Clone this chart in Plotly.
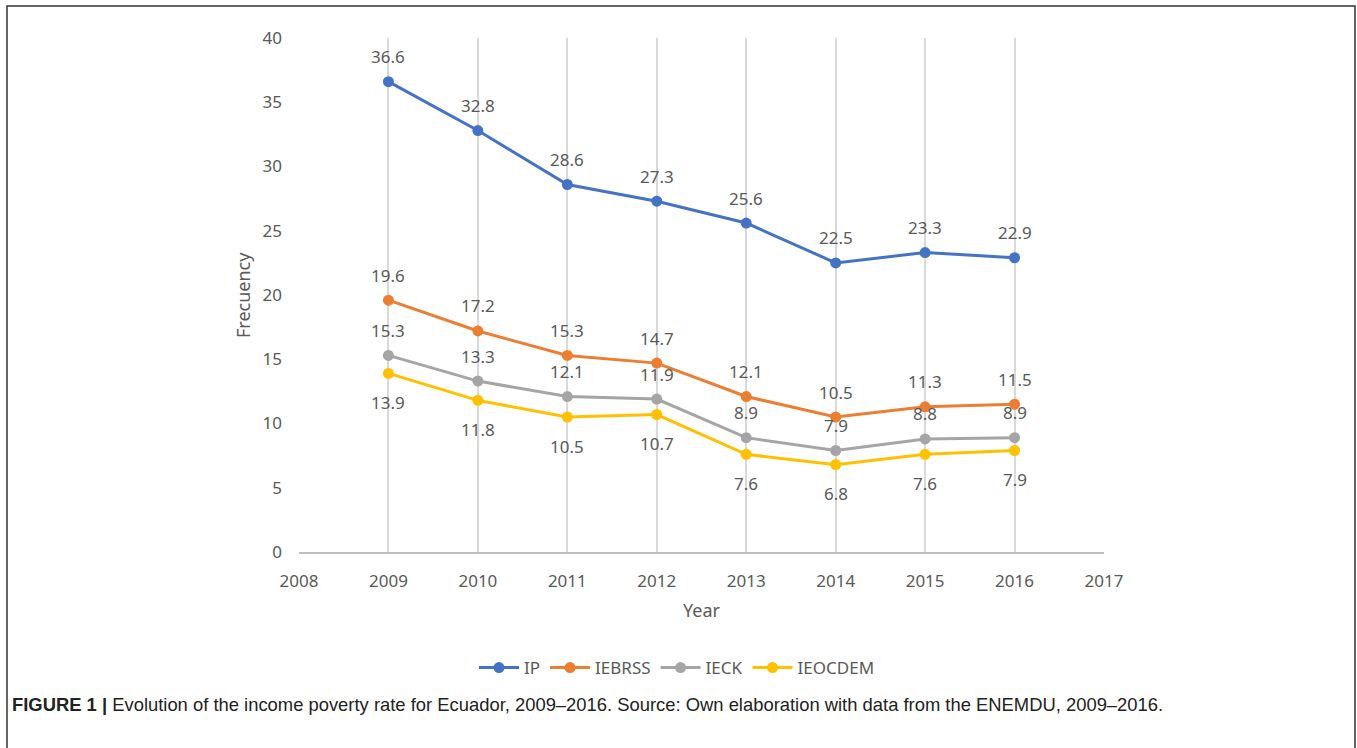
import plotly.graph_objects as go

years = [2009, 2010, 2011, 2012, 2013, 2014, 2015, 2016]
series_names = ["IP", "IEBRSS", "IECK", "IEOCDEM"]
ip = [36.6, 32.8, 28.6, 27.3, 25.6, 22.5, 23.3, 22.9]
iebrss = [19.6, 17.2, 15.3, 14.7, 12.1, 10.5, 11.3, 11.5]
ieck = [15.3, 13.3, 12.1, 11.9, 8.9, 7.9, 8.8, 8.9]
ieocdem = [13.9, 11.8, 10.5, 10.7, 7.6, 6.8, 7.6, 7.9]
colors = ["#4472C4", "#ED7D31", "#A5A5A5", "#FFC000"]
label_side = ["above", "above", "above", "below"]
x_ticks = list(range(2008, 2018))
y_ticks = [0, 5, 10, 15, 20, 25, 30, 35, 40]

W, H = 1357, 748
x0, x1 = 299, 1104
y0, y1 = 552, 38

FONT = "Noto Sans"
TXT = "#595959"

fig = go.Figure()
all_series = [ip, iebrss, ieck, ieocdem]
for name, vals, col in zip(series_names, all_series, colors):
    fig.add_trace(go.Scatter(
        x=years, y=vals, name=name, mode="lines+markers",
        line=dict(color=col, width=3),
        marker=dict(color=col, size=11),
    ))

annotations = []
for vals, side in zip(all_series, label_side):
    for xv, yv in zip(years, vals):
        annotations.append(dict(
            x=xv, y=yv, xref="x", yref="y", text=f"{yv:.1f}",
            showarrow=False, yshift=25 if side == "above" else -29,
            font=dict(family=FONT, size=17, color=TXT),
        ))

annotations += [
    dict(x=702 / W, y=1 - 610 / H, xref="paper", yref="paper", text="Year",
         xanchor="center", yanchor="middle",
         showarrow=False, font=dict(family=FONT, size=18, color=TXT)),
    dict(x=243 / W, y=1 - 295 / H, xref="paper", yref="paper", text="Frecuency",
         xanchor="center", yanchor="middle",
         showarrow=False, textangle=-90, font=dict(family=FONT, size=18, color=TXT)),
    dict(x=10 / W, y=1 - 704 / H, xref="paper", yref="paper", xanchor="left", yanchor="middle",
         text="<b>FIGURE 1 |</b> Evolution of the income poverty rate for Ecuador, 2009–2016. Source: Own elaboration with data from the ENEMDU, 2009–2016.",
         showarrow=False, font=dict(family="Liberation Sans", size=18.4, color="#222222")),
]

shapes = [
    dict(type="path", xref="paper", yref="paper",
         path=f"M {7/W} -0.01 L {7/W} {1-6/H} L {1355/W} {1-6/H} L {1355/W} -0.01",
         line=dict(color="#333333", width=1.5)),
]

fig.update_layout(
    width=W, height=H,
    margin=dict(l=0, r=0, t=0, b=0, autoexpand=False),
    paper_bgcolor="white", plot_bgcolor="white",
    showlegend=True,
    legend=dict(orientation="h", x=677 / W, xanchor="center", y=1 - 668 / H, yanchor="middle",
                font=dict(family=FONT, size=17, color=TXT), itemwidth=40),
    xaxis=dict(domain=[x0 / W, x1 / W], range=[2008, 2017], tickvals=x_ticks,
               automargin=False,
               showgrid=True, gridcolor="#D9D9D9", gridwidth=1.5,
               showline=True, linecolor="#BFBFBF", linewidth=1.5, mirror=False,
               zeroline=False, ticks="", ticklabelstandoff=13,
               tickfont=dict(family=FONT, size=17, color=TXT)),
    yaxis=dict(domain=[1 - y0 / H, 1 - y1 / H], range=[0, 40], tickvals=y_ticks,
               automargin=False,
               showgrid=False, showline=False, zeroline=False, ticks="",
               ticklabelstandoff=16,
               tickfont=dict(family=FONT, size=17, color=TXT)),
    annotations=annotations,
    shapes=shapes,
)

fig.write_html("out.html", config={"displayModeBar": False},
               post_script="document.body.style.margin='0';document.body.style.overflow='hidden';")
